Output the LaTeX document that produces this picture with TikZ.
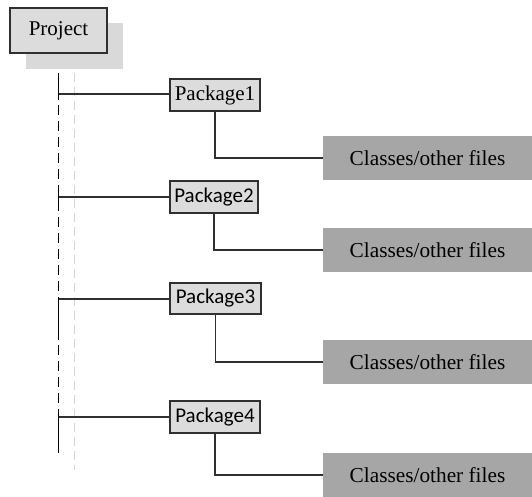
\documentclass[tikz,border=0pt]{standalone}
\usepackage{fontspec}
\setmainfont{Liberation Serif}
\newfontfamily\serifface{Liberation Serif}
\newfontfamily\pkgsans{Carlito}
\definecolor{boxfill}{HTML}{DCDCDC}
\definecolor{shadowfill}{HTML}{D9D9D9}
\definecolor{leaffill}{HTML}{A6A6A6}
\definecolor{guide}{HTML}{D4D4D4}
\definecolor{linedark}{HTML}{303030}
\begin{document}
\begin{tikzpicture}[x=1pt,y=-1pt,
  rootbox/.style={draw=linedark, line width=1.2pt, fill=boxfill, minimum width=97pt, minimum height=45pt, inner sep=0pt, font=\serifface\fontsize{21}{24}\selectfont},
  pkgbox/.style={draw=linedark, line width=1.1pt, fill=boxfill, minimum height=32pt, inner sep=0pt, font=\serifface\fontsize{21}{24}\selectfont},
  sanspkg/.style={pkgbox, font=\pkgsans\fontsize{21}{24}\selectfont},
  leafbox/.style={fill=leaffill, minimum width=209pt, minimum height=44pt, inner sep=0pt, font=\serifface\fontsize{21.3}{24}\selectfont},
  trunk/.style={draw=black, line width=1.8pt},
  branch/.style={draw=linedark, line width=1.1pt},
]
\useasboundingbox (0,0) rectangle (532,496);

% root with its offset shadow
\fill[shadowfill] (26,23) rectangle (123,69);
\node[rootbox] (project) at (58.5,30.5) {Project};

% packages
\node[pkgbox, minimum width=90pt] (p1) at (215,95) {Package1};
\node[sanspkg, minimum width=88pt] (p2) at (214,197) {Package2};
\node[sanspkg, minimum width=91pt, minimum height=31pt] (p3) at (215.5,298.5) {Package3};
\node[sanspkg, minimum width=90pt] (p4) at (215,417) {Package4};

% leaves
\node[leafbox] (c1) at (427.5,158) {Classes/other files};
\node[leafbox] (c2) at (427.5,250) {Classes/other files};
\node[leafbox] (c3) at (427.5,362) {Classes/other files};
\node[leafbox] (c4) at (427.5,475) {Classes/other files};

% light guide line
\coordinate (gtop) at (74,73);
\coordinate (gbot) at (74,470);
\draw[guide, line width=1pt, dash pattern=on 9pt off 5pt] (gtop) -- (gbot);

% trunk: dashed run with solid stretches at each branch
\coordinate (ttop) at (58.5,73);
\coordinate (tbot) at (58.5,453);
\draw[trunk, dash pattern=on 10pt off 6pt] (ttop) -- (tbot);
\coordinate (s1a) at (58.5,73);  \coordinate (s1b) at (58.5,100);
\coordinate (s2a) at (58.5,187); \coordinate (s2b) at (58.5,207);
\coordinate (s3a) at (58.5,299); \coordinate (s3b) at (58.5,340);
\coordinate (s4a) at (58.5,410); \coordinate (s4b) at (58.5,453);
\draw[trunk] (s1a) -- (s1b);
\draw[trunk] (s2a) -- (s2b);
\draw[trunk] (s3a) -- (s3b);
\draw[trunk] (s4a) -- (s4b);

% branches to packages
\coordinate (b1) at (58.5,94);
\coordinate (b2) at (58.5,197);
\coordinate (b3) at (58.5,299);
\coordinate (b4) at (58.5,417);
\draw[branch] (b1) -- (b1 -| p1.west);
\draw[branch] (b2) -- (b2 -| p2.west);
\draw[branch] (b3) -- (b3 -| p3.west);
\draw[branch] (b4) -- (b4 -| p4.west);

% packages to their contents
\draw[branch] (p1.south) |- (c1.west);
\draw[branch] (p2.south) |- (c2.west);
\draw[branch] (p3.south) |- (c3.west);
\draw[branch] (p4.south) |- (c4.west);
\end{tikzpicture}
\end{document}
